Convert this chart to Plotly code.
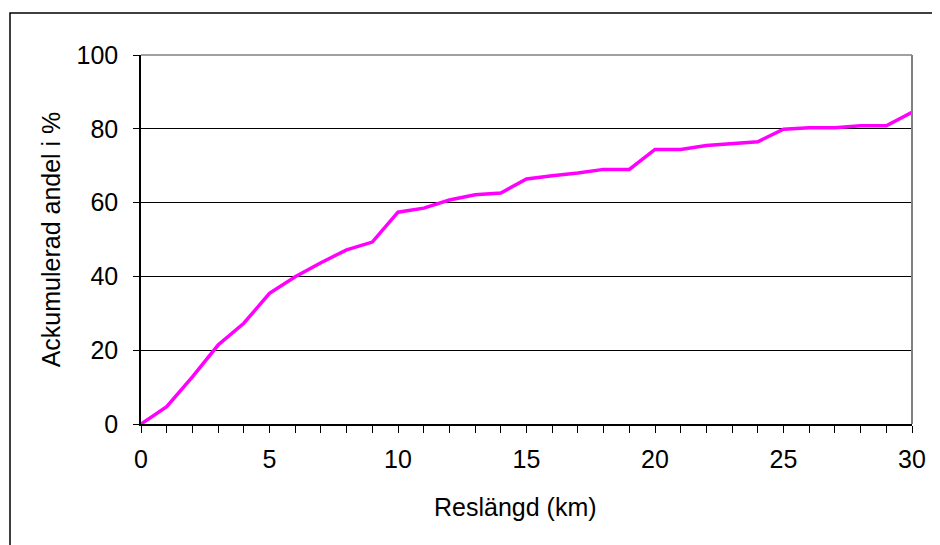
import plotly.graph_objects as go

km = list(range(0, 31))
andel = [0, 4.7, 12.8, 21.4, 27.3, 35.4, 39.9, 43.7, 47.2, 49.3,
         57.4, 58.5, 60.7, 62.1, 62.6, 66.4, 67.3, 68.0, 69.0, 69.0,
         74.4, 74.4, 75.5, 76.1, 76.5, 79.9, 80.3, 80.3, 80.8, 80.8, 84.5]
x_ticks = [0, 5, 10, 15, 20, 25, 30]
y_ticks = [0, 20, 40, 60, 80, 100]
x_title = "Reslängd (km)"
y_title = "Ackumulerad andel i %"

fig = go.Figure()
fig.add_trace(go.Scatter(x=km, y=andel, mode="lines",
                         line=dict(color="#FF00FF", width=3.5), showlegend=False))

font = dict(family="Liberation Sans, Arial, sans-serif", size=25, color="black")
OFF = 8  # page body margin
W, H = 940 - OFF, 545 - OFF
L, T = 141 - OFF, 55 - OFF
B = H - (424 - OFF)
R = W - (912 - OFF)
pw = W - L - R
ph = H - T - B

fig.update_layout(
    width=W, height=H,
    margin=dict(l=L, r=R, t=T, b=B, pad=0),
    plot_bgcolor="white", paper_bgcolor="white",
    font=font,
    xaxis=dict(range=[0, 30], tickvals=x_ticks, ticks="outside", ticklen=7,
               tickcolor="black", showline=True, linecolor="black", linewidth=1.5,
               showgrid=False, zeroline=False, ticklabelstandoff=5,
               minor=dict(dtick=1, ticks="outside", ticklen=7, tickcolor="black", showgrid=False),
               tickfont=font),
    yaxis=dict(range=[0, 100], tickvals=y_ticks, ticks="outside", ticklen=6,
               tickcolor="black", showline=True, linecolor="black", linewidth=1.5,
               showgrid=True, gridcolor="black", gridwidth=1, zeroline=False,
               ticklabelstandoff=10,
               title=dict(text=y_title, font=font, standoff=9),
               tickfont=font),
    annotations=[
        dict(text=x_title, xref="paper", yref="paper",
             x=(515 - 141) / pw, y=-(507 - 424) / ph,
             xanchor="center", yanchor="middle", showarrow=False, font=font),
    ],
    shapes=[
        dict(type="line", xref="paper", yref="paper", x0=0, x1=1, y0=1, y1=1,
             line=dict(color="#808080", width=1.5)),
        dict(type="line", xref="paper", yref="paper", x0=1, x1=1, y0=0, y1=1,
             line=dict(color="#808080", width=2)),
        dict(type="rect", xref="paper", yref="paper",
             x0=(10 - OFF - L) / pw, x1=(W + 5 - L) / pw,
             y0=-(H + 5 - T - ph) / ph, y1=1 + (T - (13 - OFF)) / ph,
             line=dict(color="black", width=1.5), layer="below"),
    ],
)

fig.write_html("out.html")
